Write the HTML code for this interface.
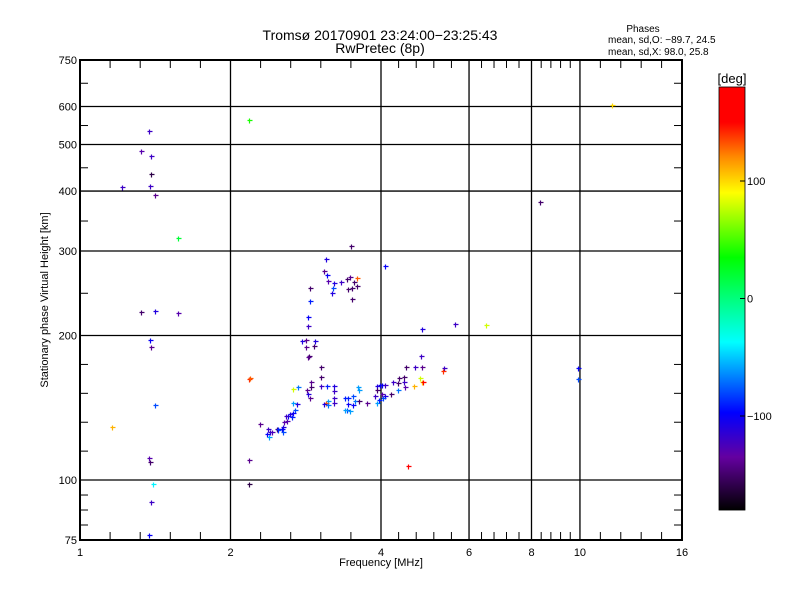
<!DOCTYPE html>
<html><head><meta charset="utf-8">
<style>
body{margin:0;background:#fff;}
svg text{font-family:"Liberation Sans",sans-serif;fill:#000;}
</style></head>
<body>
<svg id="chart" width="800" height="600" viewBox="0 0 800 600" xmlns="http://www.w3.org/2000/svg">
<rect width="800" height="600" fill="#fff"/>
<text x="380" y="40" font-size="14" text-anchor="middle">Tromsø 20170901 23:24:00−23:25:43</text>
<text x="380" y="53" font-size="14" text-anchor="middle">RwPretec (8p)</text>
<text x="643" y="32" font-size="10" text-anchor="middle">Phases</text>
<text x="608" y="43" font-size="10">mean, sd,O: −89.7, 24.5</text>
<text x="608" y="55" font-size="10">mean, sd,X:  98.0, 25.8</text>
<g id="grid"></g>
<g id="marks"></g>
<rect x="80" y="60" width="602" height="480" fill="none" stroke="#000" stroke-width="2"/>
<text x="381" y="566" font-size="11" text-anchor="middle">Frequency [MHz]</text>
<text x="48" y="300" font-size="11" text-anchor="middle" transform="rotate(-90 48 300)">Stationary phase Virtual Height [km]</text>
<g id="cbar"></g>
<text x="732" y="83" font-size="13" text-anchor="middle">[deg]</text>
</svg>
<script>
const freqs=[1.374,1.324,1.387,1.387,1.38,1.413,1.213,1.324,1.413,1.57,1.38,1.387,1.413,1.374,1.38,1.40,1.387,1.374,1.159,1.57,2.178,2.178,2.178,2.178,
3.48,3.10,4.08,3.08,3.12,3.13,3.22,3.33,3.42,3.47,3.53,3.58,3.50,3.43,3.58,3.21,3.19,2.884,2.884,3.50,2.86,2.86,4.83,5.62,
2.78,2.83,2.95,2.94,2.83,2.87,2.86,2.187,3.03,3.03,2.90,2.90,3.04,3.12,3.22,2.67,2.73,2.845,3.22,2.86,2.884,3.13,3.10,3.22,3.22,3.08,3.13,
3.39,3.43,3.52,3.55,3.60,3.62,3.62,3.52,3.43,3.42,3.47,3.39,3.75,3.89,3.92,3.98,4.01,4.08,3.92,4.01,4.08,4.03,3.92,3.96,4.19,4.23,4.34,4.32,4.32,4.44,4.44,4.46,4.48,4.68,4.83,4.81,4.79,4.83,4.85,4.66,5.35,5.32,
2.67,2.72,2.69,2.67,2.63,2.655,2.61,2.60,2.585,2.56,2.55,2.535,2.49,2.48,2.42,2.40,2.375,2.37,2.39,2.29,2.55,2.49,
8.32,11.59,6.49,4.53,9.91,9.91];
const heights=[533,485,473,434,410,392,408,224,225,223,196,189,143,111,109,98,90,77,129,319,562,162,110,98,
307,289,279,272,268,260,257,259,262,265,259,254,251,250,263,251,245,251,236,238,219,209,206,211,
195,196,195,190,189,181,180,163,172,164,160,156,157,157,157,155,156,154,153,151,148,146,145,148,145,144,143,
148,148,150,146,156,154,146,143,144,140,139,140,145,150,157,158,158,158,154,151,150,148,145,147,151,160,163,159,154,164,160,156,172,172,172,181,163,160,160,157,171,169,
145,144,140,138,137,135,136,133,136,132,129,128,127,128,126,126,128,125,123,131,126,128,
380,605,210,107,171,162];
const phases=[-120,-130,-120,-160,-120,-140,-120,-150,-110,-130,-100,-140,-80,-130,-150,-40,-120,-100,110,20,40,140,-140,-160,
-150,-110,-100,-140,-100,-130,-110,-120,-150,-140,-150,-150,-150,-150,130,-80,-110,-150,-90,-150,-100,-120,-110,-120,
-110,-140,-110,-150,-140,-150,-140,130,-150,-150,-140,-150,-120,-90,-110,80,-70,-140,-120,-110,-140,-60,130,-120,-120,-110,-70,
-90,-90,-80,-70,-60,-60,-150,-100,-100,-80,-60,-60,-140,-120,-110,-100,-100,-120,-150,-130,-110,-80,-60,-90,-150,-120,-150,-150,-70,-150,-120,-130,-150,-120,-140,-120,80,100,150,110,-120,140,
-60,-110,-80,-100,-110,-90,-100,-130,-120,-130,-110,-100,-80,-150,-130,-120,-120,-100,-60,-140,-80,-90,
-150,100,80,170,-100,-80];
const xTickVals=[1,2,4,6,8,10,16];
const xTickLabels=["1","2","4","6","8","10","16"];
const yTickVals=[75,100,200,300,400,500,600,750];
const yTickLabels=["75","100","200","300","400","500","600","750"];
const cbarTickVals=[100,0,-100];
const cbarTickLabels=["100","0","−100"];

const L=80,R=682,T=60,B=540;
const X=f=>L+(R-L)*Math.log(f)/Math.log(16);
const Y=h=>B-(B-T)*Math.log(h/75)/Math.log(10);
const NS="http://www.w3.org/2000/svg";
function mk(tag,attrs,parent){const e=document.createElementNS(NS,tag);for(const k in attrs)e.setAttribute(k,attrs[k]);parent.appendChild(e);return e;}
const grid=document.getElementById('grid'),marks=document.getElementById('marks'),cb=document.getElementById('cbar');

xTickVals.forEach((v,i)=>{
  const x=X(v);
  if(i>0&&i<xTickVals.length-1){const g=mk('line',{x1:x,x2:x,y1:T,y2:B,stroke:'#000','stroke-width':1.3},grid);
  
  }
  const t=mk('text',{x:x,y:B+16,'font-size':11,'text-anchor':'middle'},grid);t.textContent=xTickLabels[i];
  
  
  if(i<xTickVals.length-1){const x2=X(xTickVals[i+1]);for(let k=1;k<5;k++){const xx=x+(x2-x)*k/5;
    mk('line',{x1:xx,x2:xx,y1:B,y2:B-8,stroke:'#000'},grid);mk('line',{x1:xx,x2:xx,y1:T,y2:T+8,stroke:'#000'},grid);}}
});
const ySub=[4,5,2,2,2,2,2];
yTickVals.forEach((v,i)=>{
  const y=Y(v);
  if(i>0&&i<yTickVals.length-1){const g=mk('line',{x1:L,x2:R,y1:y,y2:y,stroke:'#000','stroke-width':1.3},grid);
  
  }
  const t=mk('text',{x:L-3,y:y+4,'font-size':11,'text-anchor':'end'},grid);t.textContent=yTickLabels[i];
  
  
  if(i<yTickVals.length-1){const y2=Y(yTickVals[i+1]);const n=ySub[i];for(let k=1;k<n;k++){const yy=y+(y2-y)*k/n;
    mk('line',{x1:L,x2:L+8,y1:yy,y2:yy,stroke:'#000'},grid);mk('line',{x1:R,x2:R-8,y1:yy,y2:yy,stroke:'#000'},grid);}}
});

const stops=[[0,0,0,0],[0.125,100,0,160],[0.23,0,0,255],[0.397,0,255,255],[0.597,0,255,0],[0.75,255,255,0],[0.833,255,140,0],[0.917,255,0,0],[1,255,0,0]];
function col(v){let t=(v+180)/360;t=Math.max(0,Math.min(1,t));
  for(let i=1;i<stops.length;i++){if(t<=stops[i][0]){const a=stops[i-1],b=stops[i],u=(t-a[0])/(b[0]-a[0]);
    return 'rgb('+[1,2,3].map(j=>Math.round(a[j]+(b[j]-a[j])*u)).join(',')+')';}}return 'rgb(255,0,0)';}

const n=Math.min(freqs.length,heights.length,phases.length);
for(let i=0;i<n;i++){
  const x=Math.round(X(freqs[i]))+0.5,y=Math.round(Y(heights[i]))+0.5,c=col(phases[i]);
  const p=mk('path',{d:`M${x-2} ${y}H${x+3}M${x} ${y-2}V${y+3}`,stroke:c,'stroke-width':1.2,fill:'none'},marks);
  
  
}

const cT=87,cB=510,cL=719,cW=26;
const CY=v=>cT+(cB-cT)*(180-v)/360;
for(let k=0;k<(cB-cT);k++){const v=180-360*(k+0.5)/(cB-cT);
  mk('rect',{x:cL,y:cT+k,width:cW,height:1.2,fill:col(v)},cb);}
const fr=mk('rect',{x:cL,y:cT,width:cW,height:cB-cT,fill:'none',stroke:'#000','stroke-width':0.8},cb);


cbarTickVals.forEach((v,i)=>{const y=CY(v);
  mk('line',{x1:cL+cW-5,x2:cL+cW,y1:y,y2:y,stroke:'#000'},cb);
  const t=mk('text',{x:cL+cW+2,y:y+4,'font-size':11},cb);t.textContent=cbarTickLabels[i];
  
  });
</script>
</body></html>
